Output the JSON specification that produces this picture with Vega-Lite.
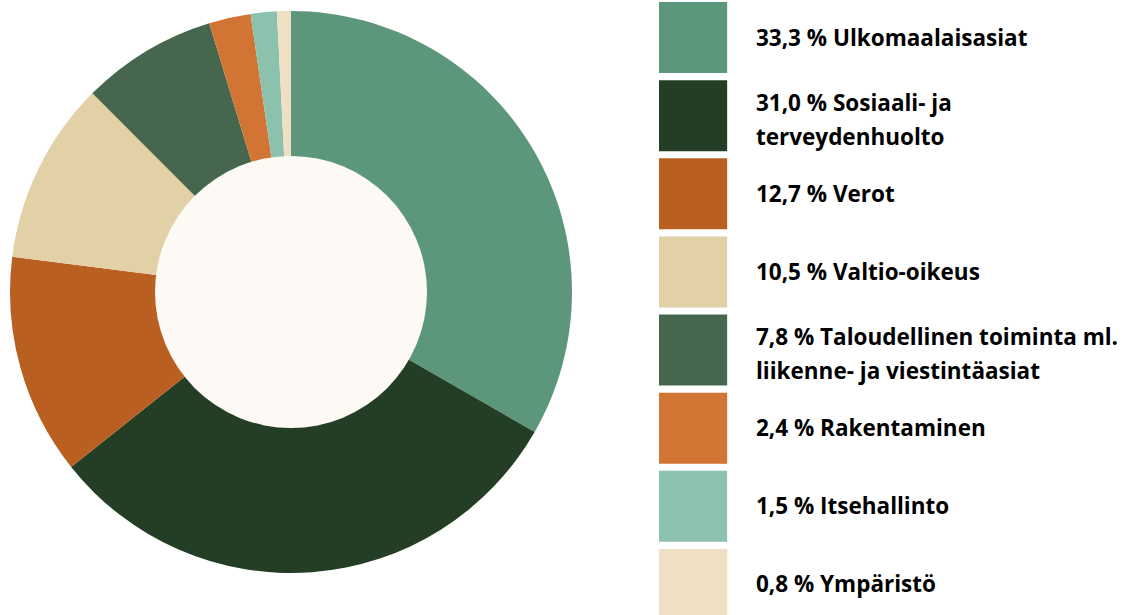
{
  "$schema": "https://vega.github.io/schema/vega-lite/v6.json",
  "padding": 0,
  "background": "#ffffff",
  "config": {"view": {"stroke": null}, "concat": {"spacing": 77}},
  "datasets": {
    "shares": [
      {"i": 0, "name": "Ulkomaalaisasiat", "value": 33.3, "lines": 1, "label": ["33,3 % Ulkomaalaisasiat"]},
      {"i": 1, "name": "Sosiaali- ja terveydenhuolto", "value": 31.0, "lines": 2, "label": ["31,0 % Sosiaali- ja", "terveydenhuolto"]},
      {"i": 2, "name": "Verot", "value": 12.7, "lines": 1, "label": ["12,7 % Verot"]},
      {"i": 3, "name": "Valtio-oikeus", "value": 10.5, "lines": 1, "label": ["10,5 % Valtio-oikeus"]},
      {"i": 4, "name": "Taloudellinen toiminta ml. liikenne- ja viestintäasiat", "value": 7.8, "lines": 2, "label": ["7,8 % Taloudellinen toiminta ml.", "liikenne- ja viestintäasiat"]},
      {"i": 5, "name": "Rakentaminen", "value": 2.4, "lines": 1, "label": ["2,4 % Rakentaminen"]},
      {"i": 6, "name": "Itsehallinto", "value": 1.5, "lines": 1, "label": ["1,5 % Itsehallinto"]},
      {"i": 7, "name": "Ympäristö", "value": 0.8, "lines": 1, "label": ["0,8 % Ympäristö"]}
    ],
    "hole": [{"part": "hole", "value": 1}]
  },
  "hconcat": [
    {
      "width": 582,
      "height": 584,
      "resolve": {"scale": {"theta": "independent"}},
      "layer": [
        {
          "data": {"name": "shares"},
          "mark": {"type": "arc", "outerRadius": 281, "innerRadius": 120, "strokeWidth": 0},
          "encoding": {
            "theta": {"field": "value", "type": "quantitative", "stack": true},
            "order": {"field": "i", "type": "quantitative"},
            "color": {
              "field": "name",
              "type": "nominal",
              "sort": {"field": "i"},
              "scale": {
                "domain": ["Ulkomaalaisasiat", "Sosiaali- ja terveydenhuolto", "Verot", "Valtio-oikeus", "Taloudellinen toiminta ml. liikenne- ja viestintäasiat", "Rakentaminen", "Itsehallinto", "Ympäristö"],
                "range": ["#5d977b", "#233e24", "#ba5f22", "#e2d0a7", "#46664d", "#d27434", "#8cc2ad", "#efdfc3"]
              },
              "legend": null
            }
          }
        },
        {
          "data": {"name": "hole"},
          "mark": {"type": "arc", "outerRadius": 136, "innerRadius": 0, "fill": "#fdf9f4", "strokeWidth": 0},
          "encoding": {
            "theta": {"field": "value", "type": "quantitative", "scale": {"domain": [0, 1]}}
          }
        }
      ]
    },
    {
      "width": 480,
      "height": 615,
      "data": {"name": "shares"},
      "layer": [
        {
          "mark": {"type": "rect", "clip": true},
          "encoding": {
            "y": {"field": "name", "type": "nominal", "sort": {"field": "i"}, "axis": null,
                  "scale": {"range": [2, 620], "paddingInner": 0.091, "paddingOuter": 0}},
            "x": {"datum": 0, "type": "quantitative", "scale": {"domain": [0, 480], "range": [0, 480]}, "axis": null},
            "x2": {"datum": 71},
            "color": {
              "field": "name",
              "type": "nominal",
              "sort": {"field": "i"},
              "legend": null
            }
          }
        },
        {
          "transform": [{"filter": "datum.lines == 1"}],
          "mark": {"type": "text", "align": "left", "baseline": "middle", "font": "Open Sans", "fontWeight": "bold", "fontSize": 22.5, "lineHeight": 34, "color": "#000000", "dy": 1},
          "encoding": {
            "y": {"field": "name", "type": "nominal", "sort": {"field": "i"}, "axis": null, "bandPosition": 0.5},
            "x": {"datum": 101, "type": "quantitative"},
            "text": {"field": "label"}
          }
        },
        {
          "transform": [{"filter": "datum.lines == 2"}],
          "mark": {"type": "text", "align": "left", "baseline": "middle", "font": "Open Sans", "fontWeight": "bold", "fontSize": 22.5, "lineHeight": 34, "color": "#000000", "dy": -12},
          "encoding": {
            "y": {"field": "name", "type": "nominal", "sort": {"field": "i"}, "axis": null, "bandPosition": 0.5},
            "x": {"datum": 101, "type": "quantitative"},
            "text": {"field": "label"}
          }
        }
      ]
    }
  ]
}
